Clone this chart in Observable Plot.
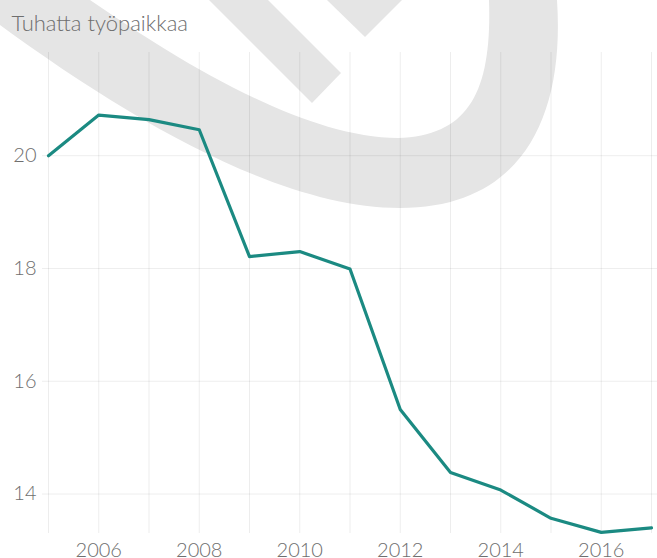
<!DOCTYPE html>
<html><head><meta charset="utf-8">
<script src="https://cdn.jsdelivr.net/npm/d3@7"></script>
<script src="https://cdn.jsdelivr.net/npm/@observablehq/plot@0.6"></script>
<style>body{margin:0;background:#fff}</style>
</head><body><div id="chart"></div>
<script>
const years = [2005,2006,2007,2008,2009,2010,2011,2012,2013,2014,2015,2016,2017];
const jobs  = [20.0,20.72,20.64,20.46,18.21,18.30,17.99,15.50,14.38,14.07,13.57,13.32,13.40];
const xTicks = [2006,2008,2010,2012,2014,2016];
const yTicks = [14,16,18,20];
const title = "Tuhatta työpaikkaa";

const data = years.map((year, i) => ({year, value: jobs[i]}));

// decorative background watermark (not data)
function watermark() {
  const g = d3.create("svg:g").attr("fill", "#e5e5e5");
  g.append("path").attr("d",
    "M0,0 L0,25 C130,120 280,208 400,208 C520,208 565,120 557,0 L489,0 C492,90 470,136 398,138 C300,138 170,55 90,0 Z");
  g.append("path").attr("d", "M209,0 L268,0 L341,73 L312,103 Z");
  g.append("path").attr("d", "M327,0 L402,0 L365,37 Z");
  return g.node();
}

const chart = Plot.plot({
  width: 657, height: 558,
  marginTop: 52, marginBottom: 25, marginLeft: 48, marginRight: 6,
  style: {fontFamily: "Lato, sans-serif", fontSize: "20px", fontWeight: 300, color: "#6e6e6e", background: "#fff"},
  x: {domain: [2005, 2017]},
  y: {domain: [13.3, 21.83]},
  marks: [
    watermark,
    Plot.ruleX(years, {stroke: "#000", strokeOpacity: 0.07}),
    Plot.ruleY(yTicks, {stroke: "#000", strokeOpacity: 0.07, insetLeft: -6, insetRight: -6}),
    Plot.axisY(yTicks, {tickSize: 0, tickPadding: 12, tickFormat: d => String(d), label: null, fill: "#6e6e6e", fontWeight: 300}),
    Plot.axisX(xTicks, {tickSize: 0, tickPadding: 9, tickFormat: d => String(d), label: null, fill: "#6e6e6e", fontWeight: 300}),
    Plot.line(data, {x: "year", y: "value", stroke: "#1b8a82", strokeWidth: 3.2}),
    Plot.text([title], {frameAnchor: "top-left", dx: -37, dy: -37, textAnchor: "start", lineAnchor: "top", fontSize: 22, fontWeight: 300, fill: "#6e6e6e"})
  ]
});
document.getElementById("chart").append(chart);
</script>
</body></html>
